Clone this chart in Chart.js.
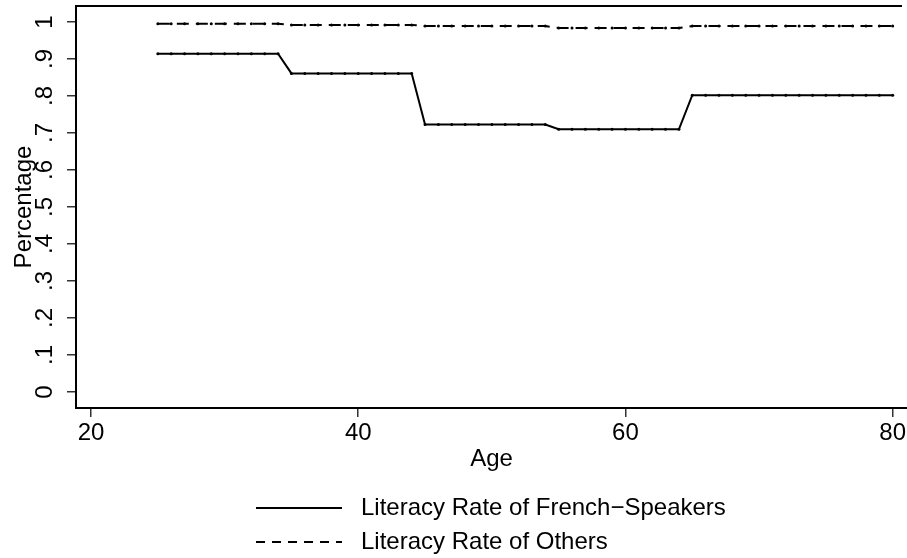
<!DOCTYPE html>
<html>
<head>
<meta charset="utf-8">
<script src="https://cdn.jsdelivr.net/npm/chart.js@4.4.0/dist/chart.umd.min.js"></script>
<style>
  html, body { margin: 0; padding: 0; background: #fff; }
</style>
</head>
<body>
<canvas id="chart" width="907" height="558"></canvas>
<script>
// ages observed (one point per year of age)
const ages = [25, 26, 27, 28, 29, 30, 31, 32, 33, 34,
              35, 36, 37, 38, 39, 40, 41, 42, 43, 44,
              45, 46, 47, 48, 49, 50, 51, 52, 53, 54,
              55, 56, 57, 58, 59, 60, 61, 62, 63, 64,
              65, 66, 67, 68, 69, 70, 71, 72, 73, 74, 75, 76, 77, 78, 79, 80];

const frenchRate = [0.914, 0.914, 0.914, 0.914, 0.914, 0.914, 0.914, 0.914, 0.914, 0.914,
                    0.861, 0.861, 0.861, 0.861, 0.861, 0.861, 0.861, 0.861, 0.861, 0.861,
                    0.723, 0.723, 0.723, 0.723, 0.723, 0.723, 0.723, 0.723, 0.723, 0.723,
                    0.710, 0.710, 0.710, 0.710, 0.710, 0.710, 0.710, 0.710, 0.710, 0.710,
                    0.802, 0.802, 0.802, 0.802, 0.802, 0.802, 0.802, 0.802, 0.802, 0.802, 0.802, 0.802, 0.802, 0.802, 0.802, 0.802];

const othersRate = [0.995, 0.995, 0.995, 0.995, 0.995, 0.995, 0.995, 0.995, 0.995, 0.995,
                    0.992, 0.992, 0.992, 0.992, 0.992, 0.992, 0.992, 0.992, 0.992, 0.992,
                    0.989, 0.989, 0.989, 0.989, 0.989, 0.989, 0.989, 0.989, 0.989, 0.989,
                    0.984, 0.984, 0.984, 0.984, 0.984, 0.984, 0.984, 0.984, 0.984, 0.984,
                    0.989, 0.989, 0.989, 0.989, 0.989, 0.989, 0.989, 0.989, 0.989, 0.989, 0.989, 0.989, 0.989, 0.989, 0.989, 0.989];

const seriesLabels = ["Literacy Rate of French\u2212Speakers", "Literacy Rate of Others"];

const xTicks = [20, 40, 60, 80];
const yTicks = [0, 0.1, 0.2, 0.3, 0.4, 0.5, 0.6, 0.7, 0.8, 0.9, 1];
const yTickLabels = ["0", ".1", ".2", ".3", ".4", ".5", ".6", ".7", ".8", ".9", "1"];

const FONT = "'Liberation Sans', Arial, sans-serif";
Chart.defaults.font.family = FONT;
Chart.defaults.color = "#000";

const toPoints = (xs, ys) => xs.map((x, i) => ({ x: x, y: ys[i] }));

// stata-ish bottom legend, two rows with line samples
const bottomLegend = {
  id: "bottomLegend",
  afterDraw(chart) {
    const ctx = chart.ctx;
    ctx.save();
    chart.data.datasets.forEach((ds, i) => {
      const y = 508 + i * 34;
      ctx.strokeStyle = ds.borderColor;
      ctx.lineWidth = 2;
      ctx.setLineDash(ds.borderDash ? [9, 7] : []);
      ctx.beginPath();
      ctx.moveTo(256, y);
      ctx.lineTo(342, y);
      ctx.stroke();
      ctx.setLineDash([]);
      ctx.fillStyle = "#000";
      ctx.font = "24px " + FONT;
      ctx.textBaseline = "middle";
      ctx.textAlign = "left";
      ctx.fillText(ds.label, 361, y);
    });
    ctx.restore();
  }
};

// top edge of the plot region
const topBorder = {
  id: "topBorder",
  afterDraw(chart) {
    const { ctx, chartArea } = chart;
    ctx.save();
    ctx.strokeStyle = "#000";
    ctx.lineWidth = 2;
    ctx.beginPath();
    ctx.moveTo(chartArea.left, chartArea.top);
    ctx.lineTo(chartArea.right - 5, chartArea.top);
    ctx.stroke();
    ctx.restore();
  }
};

new Chart(document.getElementById("chart").getContext("2d"), {
  type: "line",
  data: {
    datasets: [
      {
        label: seriesLabels[0],
        data: toPoints(ages, frenchRate),
        borderColor: "#000",
        borderWidth: 2,
        pointRadius: 1.5,
        pointBackgroundColor: "#000",
        pointBorderWidth: 0,
        tension: 0,
        fill: false
      },
      {
        label: seriesLabels[1],
        data: toPoints(ages, othersRate),
        borderColor: "#000",
        borderWidth: 2,
        borderDash: [12, 7],
        pointRadius: 1.5,
        pointBackgroundColor: "#000",
        pointBorderWidth: 0,
        tension: 0,
        fill: false
      }
    ]
  },
  options: {
    responsive: false,
    devicePixelRatio: 1,
    animation: false,
    layout: { autoPadding: false, padding: { left: 0, right: 0, top: 6, bottom: 84 } },
    plugins: {
      legend: { display: false },
      tooltip: { enabled: false }
    },
    scales: {
      x: {
        type: "linear",
        min: 18.877,
        max: 81.07,
        afterBuildTicks: (s) => { s.ticks = xTicks.map((v) => ({ value: v })); },
        afterFit: (s) => { s.height = 66; s.paddingLeft = 0; s.paddingRight = 0; },
        ticks: { font: { size: 24 }, padding: 2, maxRotation: 0, autoSkip: false, color: "#000" },
        grid: { drawOnChartArea: false, drawTicks: true, tickLength: 9, color: "#333", lineWidth: 1.5 },
        border: { display: true, color: "#000", width: 2 },
        title: { display: true, text: "Age", font: { size: 24 }, color: "#000", padding: 0 }
      },
      y: {
        type: "linear",
        min: -0.0432,
        max: 1.0432,
        afterBuildTicks: (s) => { s.ticks = yTicks.map((v) => ({ value: v })); },
        afterFit: (s) => { s.width = 76; s.paddingTop = 0; s.paddingBottom = 0; },
        ticks: {
          callback: (v, i) => yTickLabels[i],
          minRotation: 90,
          maxRotation: 90,
          crossAlign: "center",
          padding: 12,
          autoSkip: false,
          font: { size: 24 },
          color: "#000"
        },
        grid: { drawOnChartArea: false, drawTicks: true, tickLength: 9, color: "#333", lineWidth: 1.5 },
        border: { display: true, color: "#000", width: 2 },
        title: { display: true, text: "Percentage", font: { size: 24 }, color: "#000", padding: { top: 10, bottom: 0 } }
      }
    }
  },
  plugins: [bottomLegend, topBorder]
});
</script>
</body>
</html>
